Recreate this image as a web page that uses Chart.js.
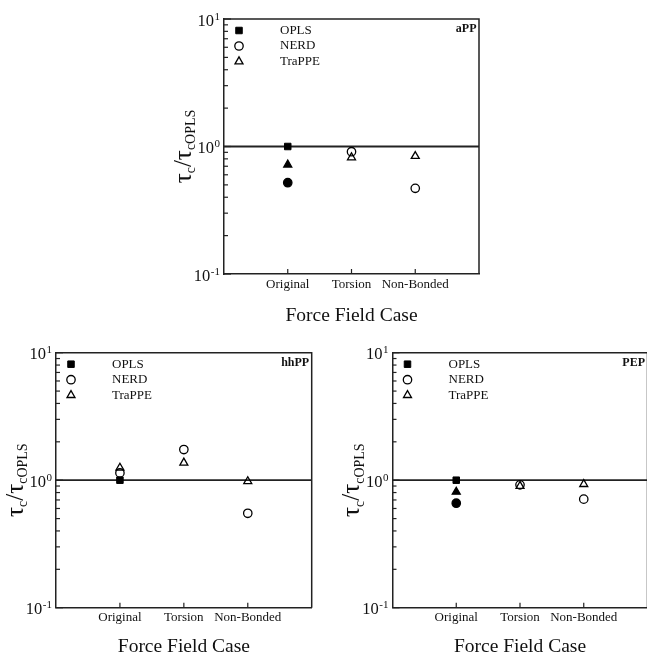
<!DOCTYPE html>
<html>
<head>
<meta charset="utf-8">
<script src="https://cdn.jsdelivr.net/npm/chart.js@4/dist/chart.umd.min.js"></script>
<style>
  html, body { margin: 0; padding: 0; background: #fff; overflow: hidden; width: 647px; height: 656px; }
  canvas { position: absolute; }
</style>
</head>
<body>
<canvas id="cAPP"></canvas>
<canvas id="cHHPP"></canvas>
<canvas id="cPEP"></canvas>
<script>
// Force-field cases along the x axis (placed at 1, 2, 3 on a 0..4 axis)
const categories = ['Original', 'Torsion', 'Non-Bonded'];
const categoryX = [1, 2, 3];
const seriesNames = ['OPLS', 'NERD', 'TraPPE'];
const yTickPowers = [-1, 0, 1];

// tau_c / tau_c,OPLS for each polymer and force field
const aPP_OPLS   = [1.0, null, null];
const aPP_NERD   = [0.52, 0.91, 0.47];
const aPP_TraPPE = [0.72, 0.82, 0.84];

const hhPP_OPLS   = [1.0, null, null];
const hhPP_NERD   = [1.14, 1.74, 0.55];
const hhPP_TraPPE = [1.25, 1.37, 0.98];

const PEP_OPLS   = [1.0, null, null];
const PEP_NERD   = [0.66, 0.92, 0.71];
const PEP_TraPPE = [0.81, 0.90, 0.93];

// Original-case NERD / TraPPE markers are solid for aPP and PEP
const aPP_solidOriginal = true;
const hhPP_solidOriginal = false;
const PEP_solidOriginal = true;

const SERIF = '"Liberation Serif", "DejaVu Serif", serif';
const INK = '#111';
const LINE = '#222';
const TITLE_SIZE = 19.5;
const TITLE_PAD = 2;

Chart.defaults.font.family = SERIF;
Chart.defaults.color = INK;

const panels = [
  { id: 'cAPP', name: 'aPP', left: 160, top: 0, w: 330, h: 335,
    plot: { l: 64, t: 19, r: 319, b: 274 }, titleOffset: 41.5,
    opls: aPP_OPLS, nerd: aPP_NERD, trappe: aPP_TraPPE, solid: aPP_solidOriginal },
  { id: 'cHHPP', name: 'hhPP', left: 0, top: 340, w: 320, h: 330,
    plot: { l: 56, t: 12.7, r: 311.7, b: 267.7 }, titleOffset: 39,
    opls: hhPP_OPLS, nerd: hhPP_NERD, trappe: hhPP_TraPPE, solid: hhPP_solidOriginal },
  { id: 'cPEP', name: 'PEP', left: 320, top: 340, w: 330, h: 330,
    plot: { l: 72.5, t: 12.7, r: 328, b: 267.7 }, titleOffset: 39,
    opls: PEP_OPLS, nerd: PEP_NERD, trappe: PEP_TraPPE, solid: PEP_solidOriginal }
];

function toPoints(vals) {
  const out = [];
  vals.forEach((v, i) => { if (v !== null) out.push({ x: categoryX[i], y: v }); });
  return out;
}

function fills(vals, solid) {
  return vals.filter(v => v !== null).map((v, i) => (i === 0 && solid) ? '#000' : 'rgba(0,0,0,0)');
}

function drawYTitle(ctx, cx, cy) {
  const parts = [
    ['\u03C4', 25, 0], ['c', 14, 4.5], ['/', 25, 0], ['\u03C4', 25, 0], ['cOPLS', 14, 4.5]
  ];
  let total = 0;
  parts.forEach(p => { ctx.font = p[1] + 'px ' + SERIF; p.push(ctx.measureText(p[0]).width); total += p[3]; });
  ctx.save();
  ctx.translate(cx, cy);
  ctx.rotate(-Math.PI / 2);
  ctx.fillStyle = INK;
  ctx.textBaseline = 'alphabetic';
  ctx.textAlign = 'left';
  let x = -total / 2;
  parts.forEach(p => {
    ctx.font = p[1] + 'px ' + SERIF;
    ctx.fillText(p[0], x, 5.5 + p[2]);
    x += p[3];
  });
  ctx.restore();
}

const decorations = {
  id: 'decorations',
  afterDraw(chart) {
    const ctx = chart.ctx;
    const a = chart.chartArea;
    const xs = chart.scales.x;
    const ys = chart.scales.y;
    const cfg = chart.options.plugins.decorations;
    ctx.save();

    // top and right frame lines
    ctx.strokeStyle = LINE;
    ctx.lineWidth = 1.5;
    ctx.beginPath();
    ctx.moveTo(a.left, a.top);
    ctx.lineTo(a.right, a.top);
    ctx.lineTo(a.right, a.bottom);
    ctx.stroke();

    // inward tick marks on the y axis
    ctx.lineWidth = 1.2;
    ys.ticks.forEach(t => {
      const lg = Math.log10(t.value);
      const major = Math.abs(lg - Math.round(lg)) < 1e-6;
      const py = ys.getPixelForValue(t.value);
      ctx.beginPath();
      ctx.moveTo(a.left, py);
      ctx.lineTo(a.left + (major ? 7 : 4), py);
      ctx.stroke();
    });

    // inward tick marks on the x axis at each case
    categoryX.forEach(v => {
      const px = xs.getPixelForValue(v);
      ctx.beginPath();
      ctx.moveTo(px, a.bottom);
      ctx.lineTo(px, a.bottom - 5);
      ctx.stroke();
    });

    // power-of-ten tick labels
    ctx.fillStyle = INK;
    ctx.textAlign = 'left';
    ctx.textBaseline = 'alphabetic';
    yTickPowers.forEach(p => {
      const py = ys.getPixelForValue(Math.pow(10, p));
      const sup = String(p);
      ctx.font = '11px ' + SERIF;
      const wSup = ctx.measureText(sup).width;
      ctx.font = '16.5px ' + SERIF;
      const wBase = ctx.measureText('10').width;
      const right = a.left - 4;
      ctx.fillText('10', right - wSup - wBase - 0.5, py + 6.5);
      ctx.font = '11px ' + SERIF;
      ctx.fillText(sup, right - wSup, py + 0.5);
    });

    // y axis title
    drawYTitle(ctx, a.left - 39, (a.top + a.bottom) / 2);

    // legend in the upper-left corner
    chart.data.datasets.slice(0, 3).forEach((ds, i) => {
      const ly = a.top + 11.5 + i * 15.5;
      ctx.fillStyle = i === 0 ? '#000' : 'rgba(0,0,0,0)';
      ctx.strokeStyle = '#000';
      ctx.lineWidth = ds.borderWidth;
      Chart.helpers.drawPoint(ctx, {
        pointStyle: ds.pointStyle, radius: ds.pointRadius, rotation: 0, borderWidth: ds.borderWidth
      }, a.left + 15, ly);
      ctx.fillStyle = INK;
      ctx.font = '13px ' + SERIF;
      ctx.textBaseline = 'middle';
      ctx.textAlign = 'left';
      ctx.fillText(ds.label, a.left + 56, ly);
    });

    // polymer label
    ctx.font = 'bold 12px ' + SERIF;
    ctx.textAlign = 'right';
    ctx.textBaseline = 'alphabetic';
    ctx.fillStyle = INK;
    ctx.fillText(cfg.name, a.right - 2.5, a.top + 13);

    ctx.restore();
  }
};

panels.forEach(pn => {
  const cv = document.getElementById(pn.id);
  cv.width = pn.w;
  cv.height = pn.h;
  cv.style.left = pn.left + 'px';
  cv.style.top = pn.top + 'px';
  cv.style.width = pn.w + 'px';
  cv.style.height = pn.h + 'px';

  const xHeight = pn.titleOffset + TITLE_SIZE * 1.2 / 2 + TITLE_PAD;

  new Chart(cv, {
    type: 'scatter',
    data: {
      datasets: [
        { label: seriesNames[0], data: toPoints(pn.opls), pointStyle: 'rect', pointRadius: 4.6,
          backgroundColor: '#000', borderColor: '#000', borderWidth: 1 },
        { label: seriesNames[1], data: toPoints(pn.nerd), pointStyle: 'circle', pointRadius: 4.2,
          backgroundColor: fills(pn.nerd, pn.solid), borderColor: '#000', borderWidth: 1.3 },
        { label: seriesNames[2], data: toPoints(pn.trappe), pointStyle: 'triangle', pointRadius: 4.6,
          backgroundColor: fills(pn.trappe, pn.solid), borderColor: '#000', borderWidth: 1.3 },
        { label: 'unity', type: 'line', data: [{ x: 0, y: 1 }, { x: 4, y: 1 }], showLine: true,
          borderColor: LINE, borderWidth: 1.8, pointRadius: 0, fill: false }
      ]
    },
    options: {
      responsive: false,
      devicePixelRatio: 1,
      animation: false,
      events: [],
      layout: {
        autoPadding: false,
        padding: { left: pn.plot.l, top: pn.plot.t, right: pn.w - pn.plot.r, bottom: pn.h - pn.plot.b - xHeight }
      },
      plugins: {
        legend: { display: false },
        tooltip: { enabled: false },
        decorations: { name: pn.name }
      },
      scales: {
        x: {
          type: 'linear', position: 'bottom', min: 0, max: 4,
          grid: { display: false, drawTicks: false },
          border: { display: true, color: LINE, width: 1.5 },
          ticks: {
            stepSize: 1, autoSkip: false, maxRotation: 0, padding: 2.5,
            font: { family: SERIF, size: 13 }, color: INK,
            callback: v => { const k = categoryX.indexOf(v); return k >= 0 ? categories[k] : ''; }
          },
          title: { display: true, text: 'Force Field Case', color: INK,
            font: { family: SERIF, size: TITLE_SIZE }, padding: { top: 0, bottom: TITLE_PAD } },
          afterFit: s => { s.height = xHeight; }
        },
        y: {
          type: 'logarithmic', position: 'left', min: 0.1, max: 10,
          grid: { display: false, drawTicks: false },
          border: { display: true, color: LINE, width: 1.5 },
          ticks: { display: false },
          afterBuildTicks: s => {
            const t = [];
            for (let p = -1; p <= 0; p++) {
              for (let m = 1; m < 10; m++) t.push({ value: m * Math.pow(10, p) });
            }
            t.push({ value: 10 });
            s.ticks = t;
          },
          afterFit: s => { s.width = 0; }
        }
      }
    },
    plugins: [decorations]
  });
});
</script>
</body>
</html>
